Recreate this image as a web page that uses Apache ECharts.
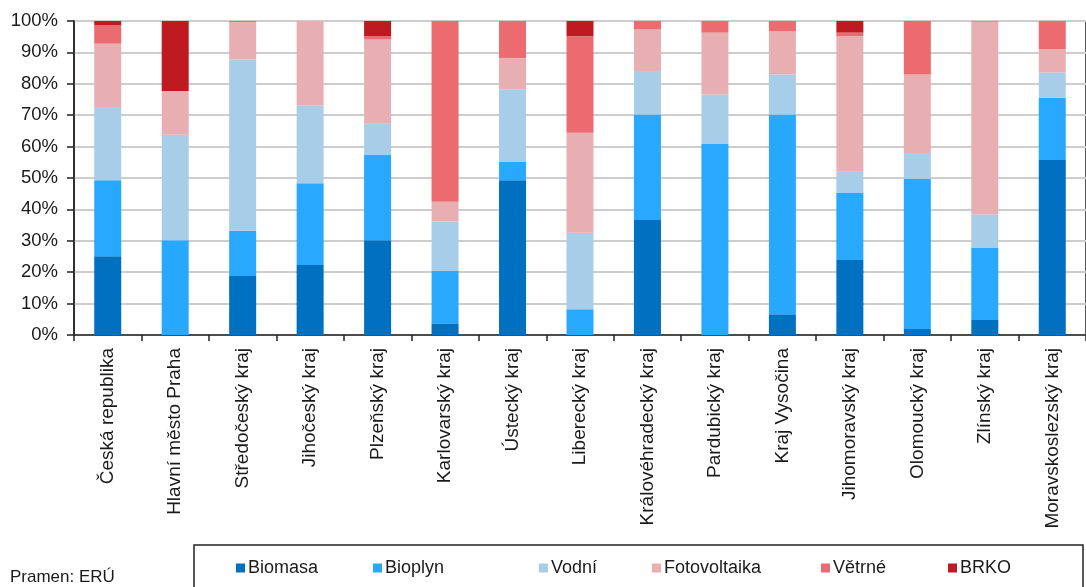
<!DOCTYPE html>
<html>
<head>
<meta charset="utf-8">
<script src="https://cdn.jsdelivr.net/npm/echarts@6/dist/echarts.min.js"></script>
<style>
  html, body { margin: 0; padding: 0; background: #fff; }
  #chart { width: 1086px; height: 587px; }
</style>
</head>
<body>
<div id="chart"></div>
<script>
// Regions (kraje) of the Czech Republic
const regions = [
  'Česká republika', 'Hlavní město Praha', 'Středočeský kraj', 'Jihočeský kraj',
  'Plzeňský kraj', 'Karlovarský kraj', 'Ústecký kraj', 'Liberecký kraj',
  'Královéhradecký kraj', 'Pardubický kraj', 'Kraj Vysočina', 'Jihomoravský kraj',
  'Olomoucký kraj', 'Zlínský kraj', 'Moravskoslezský kraj'
];

// Share of each renewable source, in percent
const biomasa      = [25.1, 0.0, 18.8, 22.3, 30.2, 3.7, 49.3, 0.0, 36.6, 0.0, 6.6, 23.9, 1.9, 4.8, 55.7];
const bioplyn      = [24.2, 30.2, 14.4, 26.0, 27.3, 16.7, 5.8, 8.2, 33.6, 61.0, 63.6, 21.5, 47.9, 23.1, 19.8];
const vodni        = [23.3, 33.6, 54.5, 24.8, 9.8, 15.7, 23.2, 24.4, 13.9, 15.6, 12.8, 6.8, 8.2, 10.5, 8.1];
const fotovoltaika = [20.2, 13.9, 11.9, 26.9, 26.8, 6.3, 9.8, 31.8, 13.2, 19.7, 13.8, 42.9, 25.0, 61.4, 7.4];
const vetrne       = [5.8, 0.0, 0.4, 0.0, 1.0, 57.6, 11.9, 30.7, 2.7, 3.7, 3.2, 1.2, 17.0, 0.2, 9.0];
const brko         = [1.4, 22.3, 0.0, 0.0, 4.9, 0.0, 0.0, 4.9, 0.0, 0.0, 0.0, 3.7, 0.0, 0.0, 0.0];

const seriesNames  = ['Biomasa', 'Bioplyn', 'Vodní', 'Fotovoltaika', 'Větrné', 'BRKO'];
const seriesData   = [biomasa, bioplyn, vodni, fotovoltaika, vetrne, brko];
const seriesColors = ['#0070C0', '#29A8FF', '#A8CDE8', '#E8AFB2', '#EB6B70', '#BE1A22'];

const FONT = "'Liberation Sans', Arial, sans-serif";
const TEXT = '#1a1a1a';

// One legend block per series so each entry sits at its own spot in the box
const legendLeft = [236, 373, 539, 652, 821, 948];
const legends = seriesNames.map((name, i) => ({
  data: [name],
  left: legendLeft[i],
  top: 559,
  icon: 'rect',
  itemWidth: 9,
  itemHeight: 9,
  padding: 0,
  selectedMode: false,
  textStyle: { fontFamily: FONT, fontSize: 18, color: TEXT, padding: [0, 0, 0, -2] }
}));

const chart = echarts.init(document.getElementById('chart'), null, { renderer: 'canvas' });

chart.setOption({
  animation: false,
  backgroundColor: '#ffffff',
  grid: {
    left: 74, top: 21, bottom: 252, right: -14,
    show: true, borderColor: '#222', borderWidth: 1.5, backgroundColor: 'transparent'
  },
  legend: legends,
  xAxis: {
    type: 'category',
    data: regions,
    axisLine: { lineStyle: { color: '#222', width: 1.5 } },
    axisTick: { show: true, length: 6, lineStyle: { color: '#222', width: 1.5 } },
    axisLabel: {
      rotate: 90, interval: 0, margin: 13,
      fontFamily: FONT, fontSize: 19, color: TEXT
    }
  },
  yAxis: {
    type: 'value',
    min: 0, max: 100, interval: 10,
    axisLine: { show: true, lineStyle: { color: '#222', width: 1.5 } },
    axisTick: { show: true, length: 7, lineStyle: { color: '#222', width: 1.5 } },
    splitLine: { lineStyle: { color: '#cdcdcd', width: 2 } },
    axisLabel: {
      formatter: '{value}%', margin: 16,
      fontFamily: FONT, fontSize: 18.5, color: TEXT
    }
  },
  series: seriesNames.map((name, i) => ({
    name,
    type: 'bar',
    stack: 'total',
    barWidth: 27,
    data: seriesData[i],
    itemStyle: { color: seriesColors[i] }
  })),
  graphic: [
    {
      type: 'rect',
      shape: { x: 194, y: 545, width: 889, height: 60 },
      style: { fill: 'none', stroke: '#222', lineWidth: 1.5 },
      z: 10
    },
    {
      type: 'text',
      left: 10, top: 569,
      style: { text: 'Pramen: ERÚ', fontFamily: FONT, fontSize: 17, fill: TEXT }
    }
  ]
});
</script>
</body>
</html>
